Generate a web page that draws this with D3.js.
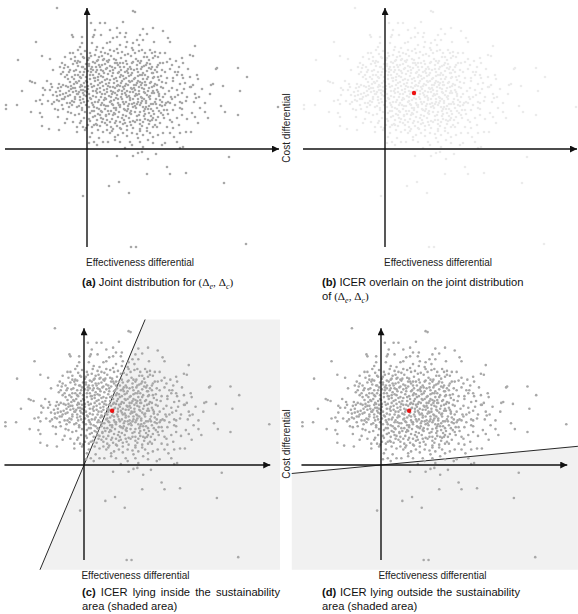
<!DOCTYPE html>
<html>
<head>
<meta charset="utf-8">
<script src="https://cdn.jsdelivr.net/npm/d3@7"></script>
<style>
  body { margin: 0; background: #fff; }
  svg { display: block; }
</style>
</head>
<body>
<div id="chart"></div>
<script>
// simulated (effectiveness differential, cost differential) draws
const draws = [
  [-30,141],[46,138],[48,137],[4,126],[13,126],[18,126],[36,127],[30,121],[23,119],[66,121],[56,120],[76,118],
  [-15,114],[-14,112],[-5,112],[7,114],[14,114],[39,116],[33,116],[-51,107],[83,107],[81,111],[108,103],[53,114],
  [60,115],[38,112],[30,112],[26,111],[56,109],[50,109],[46,106],[40,107],[33,104],[23,107],[20,106],[67,107],
  [52,104],[45,101],[39,102],[30,100],[23,99],[16,101],[18,96],[31,96],[46,99],[48,96],[55,99],[65,96],[68,97],
  [73,96],[71,92],[66,91],[60,92],[95,91],[96,86],[103,94],[106,93],[80,87],[76,86],[71,84],[65,82],[60,86],
  [55,82],[50,84],[43,82],[36,86],[33,82],[28,86],[21,87],[16,89],[15,84],[20,81],[26,79],[31,76],[38,77],
  [45,76],[51,77],[58,74],[65,76],[70,77],[75,79],[71,72],[66,71],[88,77],[90,74],[86,71],[95,74],[96,71],
  [103,72],[110,74],[-69,89],[-45,93],[-37,90],[-34,79],[130,81],[151,81],[160,72],[111,70],[104,62],[108,55],
  [109,51],[112,52],[107,47],[113,41],[108,32],[111,26],[118,37],[121,31],[123,55],[124,64],[126,65],[129,80],
  [136,63],[134,43],[138,37],[153,58],[151,34],[104,17],[191,42],[142,-8],[137,-34],[159,-95],
  [-57,68],[-65,58],[-81,44],[-81,40],[-70,44],[-56,37],[-51,48],[-47,49],[-45,45],[-47,36],[-45,32],[-45,23],
  [-38,20],[-28,19],[-39,48],[-32,40],[-29,39],[-29,32],[-22,26],[-20,30],[-19,37],[-12,34],[-14,27],[-10,22],
  [-10,17],[-7,26],[-4,22],[-2,19],[-5,39],[-10,42],[-15,44],[-20,46],[-25,44],[-30,49],[-34,54],[-27,54],
  [-22,52],[-17,54],[-12,52],[-7,52],[-24,64],[-19,62],[-14,61],[-10,66],[-7,62],[-4,59],[-37,59],[-35,62],
  [-44,61],[-52,66],[-55,67],[5,16],[7,7],[10,4],[2,6],[-4,-47],
  [30,-7],[46,-7],[51,-4],[55,-3],[61,-10],[69,-5],[80,-18],[83,-25],[99,-24],[60,-25],[32,-33],[22,-37],
  [42,-44],[44,-98],[49,-98],
  [-9,99],[-5,106],[-7,102],[-17,96],[-14,96],[-12,92],[-22,92],[-25,86],[-22,84],[-19,82],[-17,79],[-27,82],
  [-24,77],[-20,74],[-10,86],[-7,87],[-4,92],[-5,82],[-7,77],[-4,74],[-12,74],[-15,72],[8,119],[6,112],
  [5,106],[10,102],[8,94],[6,87],[11,89],[5,82],[10,79],[6,74],[11,72],
  [75,67],[85,61],[90,59],[95,56],[103,62],[106,64],[100,52],[93,47],[88,44],[83,46],[78,44],[80,39],[86,39],
  [76,34],[71,32],[66,31],[61,29],[56,27],[53,29],[48,27],[43,27],[38,26],[33,27],[28,26],[23,27],[18,26],
  [15,27],[83,29],[90,31],[95,34],[105,36],[73,26],[80,22],[66,22],[60,21],[53,20],[46,21],[40,19],[33,21],
  [26,20],[20,19],[16,17],[23,16],[31,14],[36,16],[45,16],[50,15],[56,14],[63,16],[71,14],[76,16],[86,21],
  [83,16],[93,16],[99,17],[16,7],[21,7],[28,9],[33,7],[43,7],[45,4],[53,7],[61,9],[66,6],[78,6],[90,7],[93,1],
  [38,1],[56,2],[75,4],[96,2],
  [-2,98],[3,96],[9,99],[14,97],[21,95],[27,98],[35,97],[41,95],[52,98],[58,96],[63,99],[-6,95],[78,96],
  [-3,91],[1,89],[4,93],[12,92],[17,90],[24,93],[29,89],[34,91],[39,88],[44,93],[49,90],[54,88],[62,89],
  [68,93],[83,90],[89,88],[-12,88],[-16,90],
  [-1,85],[2,83],[8,86],[13,82],[18,85],[23,83],[31,84],[40,85],[46,87],[53,86],[57,83],[63,85],[70,82],
  [85,84],[92,82],[-9,83],[-14,85],[-2,80],
  [1,78],[4,80],[9,77],[14,79],[17,76],[23,78],[28,81],[34,79],[41,80],[47,79],[54,80],[60,78],[62,81],
  [68,79],[78,77],[83,80],[-3,77],[-11,79],[-18,77],
  [-1,72],[3,74],[7,71],[12,75],[16,72],[20,70],[25,73],[29,71],[34,74],[37,70],[42,73],[48,71],[53,74],
  [56,70],[61,72],[74,73],[80,71],[-6,71],[-9,74],[-13,70],[-22,72],[-26,75],
  [0,67],[4,65],[8,68],[11,64],[15,67],[19,65],[23,69],[27,66],[31,64],[35,68],[39,65],[43,67],[47,64],
  [51,68],[55,66],[59,64],[64,67],[68,65],[72,69],[79,66],[86,68],[93,65],[-3,66],[-8,68],[-13,65],[-17,67],
  [-28,65],[-40,68],
  [1,60],[5,62],[9,58],[13,61],[17,59],[21,63],[24,58],[28,61],[32,59],[36,62],[40,58],[44,61],[48,59],
  [52,62],[57,60],[61,58],[65,62],[70,59],[76,61],[82,58],[97,60],[-2,62],[-6,59],[-11,58],[-16,60],[-29,61],
  [-42,59],
  [2,55],[6,53],[10,56],[14,52],[18,55],[22,53],[26,57],[30,54],[34,52],[38,56],[42,53],[46,57],[50,54],
  [54,52],[58,56],[63,53],[67,56],[72,53],[78,55],[84,52],[91,54],[-1,53],[-4,56],[-9,55],[-14,57],[-19,53],
  [-24,55],[-31,57],[-44,54],
  [1,48],[4,50],[8,47],[12,49],[15,46],[19,50],[23,47],[27,49],[31,46],[35,50],[39,47],[43,49],[47,46],
  [51,50],[55,48],[59,46],[63,50],[68,47],[73,49],[79,46],[85,50],[99,48],[-3,47],[-7,49],[-13,47],[-23,50],
  [-33,47],
  [2,42],[6,44],[10,41],[14,44],[18,40],[21,43],[25,45],[29,41],[33,44],[37,40],[41,43],[45,45],[49,41],
  [53,44],[58,40],[62,43],[66,45],[70,41],[75,43],[93,41],[-1,44],[-5,41],[-18,42],[-24,40],
  [3,36],[7,38],[11,35],[15,37],[19,34],[24,38],[28,35],[32,37],[36,34],[40,38],[44,35],[48,37],[52,34],
  [57,38],[62,36],[67,35],[72,38],[81,35],[-2,37],[-8,35],[-16,36],
  [2,30],[6,32],[10,29],[14,31],[19,33],[25,30],[31,32],[37,29],[42,31],[50,33],[58,30],[64,33],[69,29],
  [77,31],[-3,31],[-6,28],
  [1,24],[5,22],[9,25],[13,23],[30,23],[36,25],[44,24],[55,23],[62,25],[70,22],[92,24],[-1,21],
  [3,12],[12,11],[25,18],[28,12],[40,13],[51,11],[60,18],[66,12],[87,12],
  [0,57],[3,70],[5,46],[7,63],[8,33],[9,52],[11,69],[12,40],[13,57],[16,63],[17,44],[18,51],[20,60],[21,38],
  [22,66],[24,48],[25,55],[26,62],[27,41],[29,51],[30,68],[31,58],[32,44],[33,63],[35,55],[36,47],[37,60],
  [38,39],[39,71],[40,52],[41,64],[42,45],[43,57],[44,38],[45,68],[46,50],[47,61],[48,43],[49,55],[50,66],
  [51,47],[52,58],[53,37],[54,64],[55,51],[56,42],[57,57],[58,67],[59,48],[60,54],[61,40],[62,61],[64,45],
  [65,56],[66,38],[67,63],[69,50],[71,57],[73,44],[74,62],[76,52],[77,39],[81,47],[-2,58],[-4,50],[-6,64],
  [-8,43],[-10,55],[-12,61],[-15,48],[-18,58],[-21,63],[-25,50],[-27,58],[-30,53],[-35,45],[-36,65],
  [2,85],[6,79],[10,88],[14,73],[19,80],[22,89],[26,76],[30,86],[33,72],[37,82],[41,76],[45,86],[50,80],
  [55,74],[59,84],[66,76],[73,86],[3,28],[7,24],[11,19],[16,30],[20,24],[26,34],[29,28],[34,20],[39,33],
  [46,28],[53,25],[57,33],[63,28],[68,24],[74,36],[85,27],[95,40],[100,30],[98,66],[101,80],[91,77],[88,52],
  [95,46],[115,60],[118,46],
  [1,63],[3,51],[4,77],[6,58],[7,42],[8,71],[10,60],[11,47],[12,84],[13,66],[14,38],[15,55],[16,78],[17,49],
  [18,69],[19,43],[20,57],[21,75],[22,35],[23,62],[24,52],[25,82],[26,44],[27,70],[28,56],[29,39],[30,63],
  [31,50],[32,77],[33,42],[34,66],[35,58],[36,73],[37,45],[38,63],[39,54],[40,78],[41,40],[42,68],[43,51],
  [44,74],[45,60],[46,42],[47,70],[48,53],[49,64],[50,45],[51,73],[52,55],[53,67],[54,46],[55,61],[56,76],
  [57,50],[58,64],[59,42],[60,70],[62,52],[63,66],[64,40],[66,58],[67,72],[69,45],[70,64],[72,55],[75,47],
  [-1,68],[-3,54],[-4,82],[-5,63],[-6,46],[-7,72],[-8,57],[-9,88],[-11,67],[-12,50],[-13,78],[-16,63],
  [-17,46],[-19,70],[-21,56],[-23,81],[-26,62],[-28,48],
  [2,91],[9,82],[15,93],[20,88],[27,90],[33,86],[38,94],[44,80],[51,88],[57,92],[64,80],
  [5,38],[13,34],[20,29],[27,36],[35,31],[43,36],[50,29],[58,35],[65,29],[10,24],[24,22],[40,23],[53,18]
];

const icer = [29, 56];          // mean (effectiveness, cost) differential
const wtpInside = 2.38;          // threshold slope, panel (c)
const wtpOutside = 0.095;        // threshold slope, panel (d)
const effectAxis = [-82, 192];
const costAxis = [-98, 141];

const xLabel = 'Effectiveness differential';
const yLabel = 'Cost differential';

const captions = [
  { tag: '(a)', first: 'Joint distribution for', firstMath: true, second: null },
  { tag: '(b)', first: 'ICER overlain on the joint distribution', second: 'of', secondMath: true },
  { tag: '(c)', first: 'ICER lying inside the sustainability', second: 'area (shaded area)', justify: true },
  { tag: '(d)', first: 'ICER lying outside the sustainability', second: 'area (shaded area)', justify: true },
];

const panels = [
  { ox: 87, oy: 149, k: 1, fill: '#a8a8a8', icer: false, wtp: null, yLab: true, capX: 82, capY: 286 },
  { ox: 385, oy: 149, k: 1, fill: '#ebebeb', icer: true, wtp: null, yLab: false, capX: 322, capY: 286 },
  { ox: 84, oy: 465, k: 0.97, fill: '#a8a8a8', icer: true, wtp: wtpInside, box: [-100, 202, -108, 150], yLab: true, capX: 82, capY: 596 },
  { ox: 381, oy: 465, k: 0.97, fill: '#a8a8a8', icer: true, wtp: wtpOutside, box: [-92, 203, -108, 150], yLab: false, capX: 322, capY: 596 },
];

const W = 578, H = 614;
const sans = '"Liberation Sans", Arial, Helvetica, sans-serif';
const serif = '"Liberation Serif", "DejaVu Serif", serif';
const colWidth = 198;

const svg = d3.select('#chart').append('svg').attr('width', W).attr('height', H);
const defs = svg.append('defs');

defs.append('marker')
  .attr('id', 'arrow')
  .attr('viewBox', '0 0 10 10')
  .attr('refX', 10)
  .attr('refY', 5)
  .attr('markerUnits', 'userSpaceOnUse')
  .attr('markerWidth', 8)
  .attr('markerHeight', 7)
  .attr('orient', 'auto')
  .append('path')
  .attr('d', 'M0,0 L10,5 L0,10 z')
  .attr('fill', '#111');

const addMath = (text) => {
  const m = text.append('tspan').style('font-family', serif);
  m.append('tspan').text(' (Δ');
  m.append('tspan').attr('font-size', 8).attr('font-style', 'italic').attr('dy', 2.5).text('e');
  m.append('tspan').attr('dy', -2.5).text(', Δ');
  m.append('tspan').attr('font-size', 8).attr('font-style', 'italic').attr('dy', 2.5).text('c');
  m.append('tspan').attr('dy', -2.5).text(')');
};

panels.forEach((p, i) => {
  const g = svg.append('g');
  const x = d3.scaleLinear().domain([0, 100]).range([p.ox, p.ox + 100 * p.k]);
  const y = d3.scaleLinear().domain([0, 100]).range([p.oy, p.oy - 100 * p.k]);

  if (p.wtp !== null) {
    const [e0, e1, c0, c1] = p.box;
    const clipId = 'clip' + i;
    defs.append('clipPath').attr('id', clipId)
      .append('rect')
      .attr('x', x(e0)).attr('y', y(c1))
      .attr('width', x(e1) - x(e0)).attr('height', y(c0) - y(c1));

    const lo = -400, hi = 400;
    const shade = [[lo, p.wtp * lo], [hi, p.wtp * hi], [hi, -1000], [lo, -1000]];
    g.append('path')
      .attr('clip-path', 'url(#' + clipId + ')')
      .attr('d', d3.line().x((d) => x(d[0])).y((d) => y(d[1]))(shade) + 'Z')
      .attr('fill', '#f1f1f1');

    g.append('line')
      .attr('clip-path', 'url(#' + clipId + ')')
      .attr('x1', x(lo)).attr('y1', y(p.wtp * lo))
      .attr('x2', x(hi)).attr('y2', y(p.wtp * hi))
      .attr('stroke', '#111')
      .attr('stroke-width', 0.9);
  }

  g.append('g')
    .selectAll('circle')
    .data(draws)
    .enter()
    .append('circle')
    .attr('cx', (d) => x(d[0]))
    .attr('cy', (d) => y(d[1]))
    .attr('r', 1.3)
    .attr('fill', p.fill);

  // axes with arrowheads
  g.append('line')
    .attr('x1', x(effectAxis[0])).attr('y1', y(0))
    .attr('x2', x(effectAxis[1])).attr('y2', y(0))
    .attr('stroke', '#111').attr('stroke-width', 1.4)
    .attr('marker-end', 'url(#arrow)');
  g.append('line')
    .attr('x1', x(0)).attr('y1', y(costAxis[0]))
    .attr('x2', x(0)).attr('y2', y(costAxis[1]))
    .attr('stroke', '#111').attr('stroke-width', 1.4)
    .attr('marker-end', 'url(#arrow)');

  if (p.icer) {
    g.append('circle')
      .attr('cx', x(icer[0]))
      .attr('cy', y(icer[1]))
      .attr('r', 2.2)
      .attr('fill', '#ee1111');
  }

  g.append('text')
    .attr('x', x(53))
    .attr('y', y(costAxis[0]) + 19)
    .attr('text-anchor', 'middle')
    .style('font-family', sans)
    .style('font-size', '10px')
    .attr('fill', '#222')
    .text(xLabel);

  if (p.yLab) {
    g.append('text')
      .attr('transform', 'translate(290,' + (p.oy - 21) + ') rotate(-90)')
      .attr('text-anchor', 'middle')
      .style('font-family', sans)
      .style('font-size', '10px')
      .attr('fill', '#222')
      .text(yLabel);
  }

  // caption
  const cap = captions[i];
  const capG = g.append('g')
    .style('font-family', sans)
    .style('font-size', '11.2px')
    .attr('fill', '#111');

  if (cap.justify) {
    const words = [cap.tag].concat(cap.first.split(' '));
    const nodes = words.map((w, j) =>
      capG.append('text')
        .attr('y', p.capY)
        .attr('font-weight', j === 0 ? 'bold' : null)
        .text(w)
    );
    const widths = nodes.map((n) => n.node().getComputedTextLength());
    const gap = Math.max(3, (colWidth - d3.sum(widths)) / (words.length - 1));
    let cx = p.capX;
    nodes.forEach((n, j) => {
      n.attr('x', cx);
      cx += widths[j] + gap;
    });
  } else {
    const t = capG.append('text').attr('x', p.capX).attr('y', p.capY);
    t.append('tspan').attr('font-weight', 'bold').text(cap.tag);
    t.append('tspan').text(' ' + cap.first);
    if (cap.firstMath) addMath(t);
  }

  if (cap.second) {
    const t2 = capG.append('text').attr('x', p.capX).attr('y', p.capY + 14).text(cap.second);
    if (cap.secondMath) addMath(t2);
  }
});
</script>
</body>
</html>
